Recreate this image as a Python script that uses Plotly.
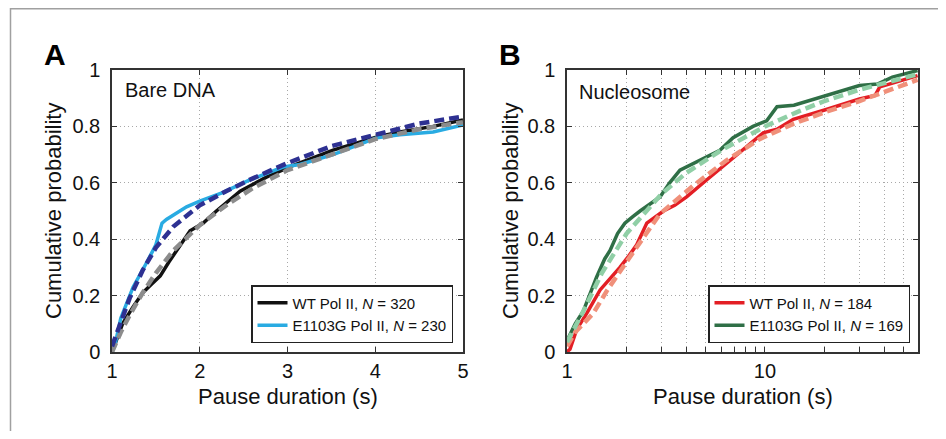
import plotly.graph_objects as go

# ---------------- Panel A: Bare DNA (linear x) ----------------
a_wt_t = [1.0, 1.05, 1.12, 1.24, 1.35, 1.45, 1.55, 1.65, 1.74, 1.89, 2.04, 2.19, 2.46, 2.76, 3.03, 3.52, 4.02, 4.28, 4.66, 5.0]
a_wt_p = [0.0, 0.04, 0.10, 0.16, 0.21, 0.24, 0.27, 0.32, 0.36, 0.43, 0.457, 0.50, 0.57, 0.62, 0.657, 0.716, 0.763, 0.78, 0.80, 0.823]

a_mut_t = [1.0, 1.03, 1.1, 1.24, 1.4, 1.5, 1.57, 1.62, 1.85, 2.0, 2.26, 2.57, 2.95, 3.14, 3.52, 4.02, 4.28, 4.66, 5.0]
a_mut_p = [0.0, 0.02, 0.12, 0.23, 0.32, 0.38, 0.457, 0.47, 0.515, 0.535, 0.565, 0.61, 0.656, 0.665, 0.70, 0.76, 0.77, 0.78, 0.805]

a_wt_fit_t = [1.0, 1.1, 1.2, 1.35, 1.5, 1.7, 2.0, 2.3, 2.6, 3.0, 3.5, 4.0, 4.5, 5.0]
a_wt_fit_p = [0.0, 0.07, 0.13, 0.21, 0.28, 0.36, 0.45, 0.52, 0.58, 0.645, 0.70, 0.755, 0.79, 0.815]

a_mut_fit_t = [1.0, 1.1, 1.2, 1.35, 1.5, 1.7, 2.0, 2.3, 2.6, 3.0, 3.5, 4.0, 4.5, 5.0]
a_mut_fit_p = [0.02, 0.11, 0.19, 0.29, 0.37, 0.445, 0.52, 0.57, 0.615, 0.67, 0.73, 0.77, 0.81, 0.835]

# ---------------- Panel B: Nucleosome (log x) ----------------
b_wt_t = [1.0, 1.035, 1.12, 1.26, 1.47, 1.65, 1.85, 2.05, 2.25, 2.53, 2.8, 3.07, 3.5, 4.02, 5.07, 6.4, 8.1, 9.8, 11.5, 13.9, 20.4, 30, 36, 38, 45, 59]
b_wt_p = [0.0, 0.01, 0.08, 0.138, 0.22, 0.26, 0.30, 0.34, 0.38, 0.457, 0.48, 0.50, 0.52, 0.55, 0.61, 0.67, 0.73, 0.777, 0.79, 0.825, 0.86, 0.897, 0.91, 0.94, 0.955, 0.98]

b_mut_t = [1.0, 1.1, 1.21, 1.41, 1.55, 1.65, 1.8, 1.96, 2.15, 2.34, 2.95, 3.3, 3.72, 4.69, 5.92, 6.9, 8.7, 10.2, 11.5, 14, 20.4, 30, 37, 44, 59]
b_mut_p = [0.04, 0.10, 0.146, 0.265, 0.33, 0.36, 0.42, 0.457, 0.48, 0.50, 0.55, 0.60, 0.645, 0.68, 0.715, 0.76, 0.80, 0.82, 0.87, 0.875, 0.91, 0.945, 0.95, 0.975, 0.998]

b_mut_fit_t = [1.0, 1.2, 1.5, 2.0, 3.0, 4.0, 6.0, 10, 15, 20, 30, 40, 59]
b_mut_fit_p = [0.035, 0.14, 0.28, 0.42, 0.56, 0.635, 0.715, 0.80, 0.855, 0.89, 0.93, 0.955, 0.985]

b_wt_fit_t = [1.0, 1.1, 1.36, 1.6, 2.0, 2.5, 2.95, 4.35, 6.4, 9.4, 14, 20, 30, 45, 59]
b_wt_fit_p = [0.02, 0.07, 0.138, 0.22, 0.32, 0.42, 0.49, 0.59, 0.68, 0.755, 0.81, 0.85, 0.89, 0.935, 0.965]

y_ticks = [0, 0.2, 0.4, 0.6, 0.8, 1]
y_ticktext = ["0", "0.2", "0.4", "0.6", "0.8", "1"]
a_xticks = [1, 2, 3, 4, 5]
b_xticks = [1, 2, 3, 4, 5, 6, 7, 8, 9, 10, 20, 30, 40, 50]
b_xticktext = ["1", "", "", "", "", "", "", "", "", "10", "", "", "", ""]

# The page body adds an 8px margin; the figure is sized to fit inside the window.
OFF = 8
W, H = 946 - 2 * OFF, 439 - 2 * OFF
FONT = "Arial, Liberation Sans, Helvetica, sans-serif"

def px(x):
    return (x - OFF) / W

def py(y):
    return 1 - (y - OFF) / H

fig = go.Figure()

# Panel A traces
fig.add_trace(go.Scatter(x=a_wt_t, y=a_wt_p, mode="lines", line=dict(color="#111111", width=3.5),
                         name="WT Pol II, <i>N</i> = 320", xaxis="x", yaxis="y", legend="legend"))
fig.add_trace(go.Scatter(x=a_mut_t, y=a_mut_p, mode="lines", line=dict(color="#29abe2", width=3.5),
                         name="E1103G Pol II, <i>N</i> = 230", xaxis="x", yaxis="y", legend="legend"))
fig.add_trace(go.Scatter(x=a_wt_fit_t, y=a_wt_fit_p, mode="lines", line=dict(color="#8c8c8c", width=4.5, dash="10px,5px"),
                         showlegend=False, xaxis="x", yaxis="y"))
fig.add_trace(go.Scatter(x=a_mut_fit_t, y=a_mut_fit_p, mode="lines", line=dict(color="#2e3192", width=4.5, dash="10px,5px"),
                         showlegend=False, xaxis="x", yaxis="y"))

# Panel B traces
fig.add_trace(go.Scatter(x=b_wt_t, y=b_wt_p, mode="lines", line=dict(color="#e31e24", width=3.5),
                         name="WT Pol II, <i>N</i> = 184", xaxis="x2", yaxis="y2", legend="legend2"))
fig.add_trace(go.Scatter(x=b_mut_t, y=b_mut_p, mode="lines", line=dict(color="#2f6f46", width=3.5),
                         name="E1103G Pol II, <i>N</i> = 169", xaxis="x2", yaxis="y2", legend="legend2"))
fig.add_trace(go.Scatter(x=b_wt_fit_t, y=b_wt_fit_p, mode="lines", line=dict(color="#f0907a", width=4.5, dash="10px,5px"),
                         showlegend=False, xaxis="x2", yaxis="y2"))
fig.add_trace(go.Scatter(x=b_mut_fit_t, y=b_mut_fit_p, mode="lines", line=dict(color="#90cfa6", width=4.5, dash="10px,5px"),
                         showlegend=False, xaxis="x2", yaxis="y2"))

grid = dict(showgrid=True, gridcolor="#a8a8a8", griddash="1px,3px", gridwidth=1,
            showline=True, linecolor="#333333", linewidth=1.5, mirror="ticks",
            ticks="inside", ticklen=5, tickcolor="#333333", automargin=False,
            tickfont=dict(family=FONT, size=20, color="#111111"), zeroline=False)

ydom = [py(352), py(70)]
fig.update_layout(
    template="none",
    width=W, height=H, margin=dict(l=0, r=0, t=0, b=0, autoexpand=False),
    paper_bgcolor="white", plot_bgcolor="white",
    font=dict(family=FONT, color="#111111"),
    xaxis=dict(domain=[px(112), px(463)], range=[1, 5], tickvals=a_xticks, anchor="y", **grid),
    yaxis=dict(domain=ydom, range=[0, 1], tickvals=y_ticks, ticktext=y_ticktext, anchor="x",
               ticklabelstandoff=6, **grid),
    xaxis2=dict(domain=[px(567), px(918)], type="log", range=[0, 1.773], tickvals=b_xticks,
                ticktext=b_xticktext, anchor="y2", **grid),
    yaxis2=dict(domain=ydom, range=[0, 1], tickvals=y_ticks, ticktext=y_ticktext, anchor="x2",
                ticklabelstandoff=6, **grid),
    legend=dict(x=px(453), y=py(343), xanchor="right", yanchor="bottom",
                bordercolor="#222222", borderwidth=1.5, bgcolor="white",
                font=dict(family=FONT, size=15, color="#111111"), itemwidth=30,
                tracegroupgap=0),
    legend2=dict(x=px(910), y=py(343), xanchor="right", yanchor="bottom",
                 bordercolor="#222222", borderwidth=1.5, bgcolor="white",
                 font=dict(family=FONT, size=15, color="#111111"), itemwidth=30,
                 tracegroupgap=0),
    shapes=[dict(type="rect", xref="paper", yref="paper", x0=px(10.5), x1=1.05, y0=-0.05, y1=py(8.8),
                 line=dict(color="#a0a0a0", width=1.5), fillcolor="rgba(0,0,0,0)", layer="below")],
)

ann = []
ann.append(dict(text="<b>A</b>", x=px(55), y=py(54), xref="paper", yref="paper", showarrow=False,
                font=dict(family=FONT, size=30, color="#000000"), xanchor="center", yanchor="middle"))
ann.append(dict(text="<b>B</b>", x=px(510), y=py(54), xref="paper", yref="paper", showarrow=False,
                font=dict(family=FONT, size=30, color="#000000"), xanchor="center", yanchor="middle"))
ann.append(dict(text="Bare DNA", x=px(123), y=py(90), xref="paper", yref="paper", showarrow=False,
                font=dict(family=FONT, size=20, color="#111111"), xanchor="left", yanchor="middle"))
ann.append(dict(text="Nucleosome", x=px(577), y=py(92), xref="paper", yref="paper", showarrow=False,
                font=dict(family=FONT, size=20, color="#111111"), xanchor="left", yanchor="middle"))
for cx in (53, 510):
    ann.append(dict(text="Cumulative probability", x=px(cx), y=py(211), xref="paper", yref="paper",
                    showarrow=False, textangle=-90, font=dict(family=FONT, size=22, color="#111111"),
                    xanchor="center", yanchor="middle"))
for cx in (287.5, 742.5):
    ann.append(dict(text="Pause duration (s)", x=px(cx), y=py(396), xref="paper", yref="paper",
                    showarrow=False, font=dict(family=FONT, size=22, color="#111111"),
                    xanchor="center", yanchor="middle"))
fig.update_layout(annotations=ann)

fig.write_html("out.html")
